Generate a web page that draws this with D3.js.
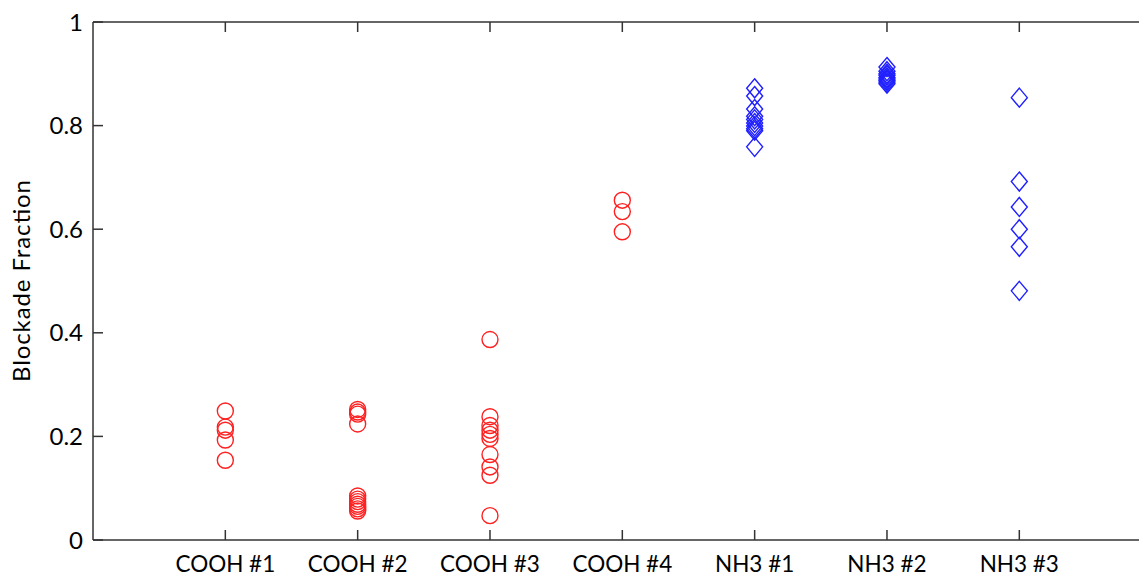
<!DOCTYPE html>
<html>
<head>
<meta charset="utf-8">
<script src="https://cdn.jsdelivr.net/npm/d3@7"></script>
<style>
  body { margin: 0; background: #fff; }
  svg { display: block; font-family: Lato, "Liberation Sans", sans-serif; }
</style>
</head>
<body>
<div id="chart"></div>
<script>
// categories along x (positions 1..7)
var categories = ["COOH #1", "COOH #2", "COOH #3", "COOH #4", "NH3 #1", "NH3 #2", "NH3 #3"];
var markerType = ["circle", "circle", "circle", "circle", "diamond", "diamond", "diamond"];

// blockade fractions, one list per category
var cooh1 = [0.249, 0.218, 0.212, 0.193, 0.154];
var cooh2 = [0.252, 0.247, 0.243, 0.224, 0.085, 0.079, 0.074, 0.069, 0.065, 0.060, 0.056];
var cooh3 = [0.387, 0.238, 0.221, 0.212, 0.204, 0.196, 0.165, 0.141, 0.125, 0.047];
var cooh4 = [0.656, 0.634, 0.595];
var nh3_1 = [0.872, 0.857, 0.832, 0.818, 0.812, 0.805, 0.799, 0.794, 0.790, 0.759];
var nh3_2 = [0.913, 0.905, 0.900, 0.897, 0.893, 0.890, 0.887, 0.884, 0.881];
var nh3_3 = [0.854, 0.692, 0.643, 0.600, 0.566, 0.481];

var yTicks = [0, 0.2, 0.4, 0.6, 0.8, 1];

var series = [cooh1, cooh2, cooh3, cooh4, nh3_1, nh3_2, nh3_3];

var width = 1139, height = 578;
var plotLeft = 93, plotTop = 22, plotBottom = 540;
var axisColor = "#333";

var svg = d3.select("#chart").append("svg")
  .attr("width", width)
  .attr("height", height);

var x = d3.scaleLinear().domain([0, 8]).range([plotLeft, plotLeft + 8 * 132.33]);
var y = d3.scaleLinear().domain([0, 1]).range([plotBottom, plotTop]);

//axes box: left, bottom, top (right edge falls outside the picture)
var box = svg.append("g").attr("stroke", axisColor).attr("stroke-width", 1.5).attr("fill", "none");
box.append("line").attr("x1", x(0)).attr("x2", x(8)).attr("y1", y(0)).attr("y2", y(0));
box.append("line").attr("x1", x(0)).attr("x2", x(8)).attr("y1", y(1)).attr("y2", y(1));
box.append("line").attr("x1", x(0)).attr("x2", x(0)).attr("y1", y(0)).attr("y2", y(1));

//inward ticks
var tickLen = 10;
categories.forEach(function(c, i) {
  box.append("line").attr("x1", x(i + 1)).attr("x2", x(i + 1)).attr("y1", y(0)).attr("y2", y(0) - tickLen);
  box.append("line").attr("x1", x(i + 1)).attr("x2", x(i + 1)).attr("y1", y(1)).attr("y2", y(1) + tickLen);
});
yTicks.forEach(function(t) {
  box.append("line").attr("x1", x(0)).attr("x2", x(0) + tickLen).attr("y1", y(t)).attr("y2", y(t));
});

//tick labels
svg.append("g").selectAll("text").data(yTicks).enter().append("text")
  .attr("x", x(0) - 10)
  .attr("y", function(d) { return y(d); })
  .attr("dy", "0.36em")
  .attr("text-anchor", "end")
  .attr("font-size", 24)
  .attr("fill", "#000")
  .text(function(d) { return d3.format("")(d); });

svg.append("g").selectAll("text").data(categories).enter().append("text")
  .attr("x", function(d, i) { return x(i + 1); })
  .attr("y", 572)
  .attr("text-anchor", "middle")
  .attr("font-size", 22.5)
  .attr("fill", "#000")
  .text(function(d) { return d; });

svg.append("text")
  .attr("transform", "translate(30," + ((plotTop + plotBottom) / 2) + ") rotate(-90)")
  .attr("text-anchor", "middle")
  .attr("font-size", 24)
  .attr("textLength", 202)
  .attr("fill", "#000")
  .text("Blockade Fraction");

//markers
var pts = [];
series.forEach(function(vals, i) {
  vals.forEach(function(v) { pts.push({ pos: i + 1, v: v, type: markerType[i] }); });
});

var marks = svg.append("g").attr("fill", "none").attr("stroke-width", 1.4);

marks.selectAll("circle").data(pts.filter(function(p) { return p.type == "circle"; }))
  .enter().append("circle")
  .attr("cx", function(d) { return x(d.pos); })
  .attr("cy", function(d) { return y(d.v); })
  .attr("r", 8)
  .attr("stroke", "#ff2020");

marks.selectAll("path").data(pts.filter(function(p) { return p.type == "diamond"; }))
  .enter().append("path")
  .attr("d", function(d) {
    var cx = x(d.pos), cy = y(d.v), w = 8, h = 9.5;
    return "M" + cx + "," + (cy - h) + "L" + (cx + w) + "," + cy + "L" + cx + "," + (cy + h) + "L" + (cx - w) + "," + cy + "Z";
  })
  .attr("stroke", "#2020ff");
</script>
</body>
</html>
